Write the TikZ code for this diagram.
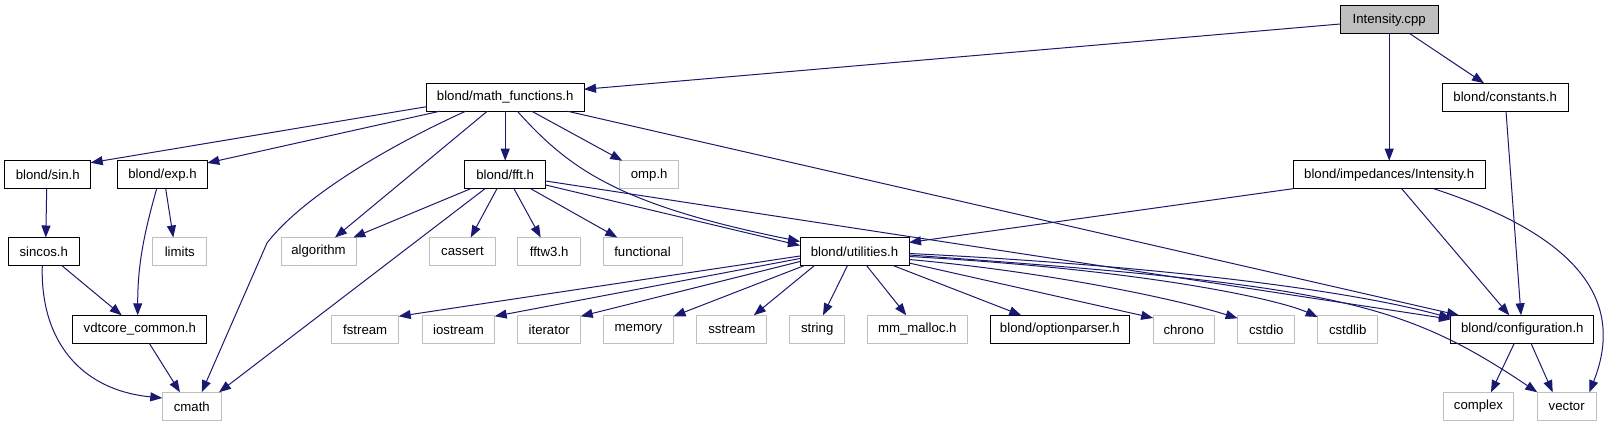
\documentclass[tikz,border=0pt]{standalone}
\usepackage{fontspec}
\setmainfont{Liberation Sans}
\usetikzlibrary{arrows.meta}
\definecolor{edgeblue}{RGB}{25,25,112}
\definecolor{boxgray}{RGB}{191,191,191}
\begin{document}
\begin{tikzpicture}[x=1pt,y=-1pt,
  box/.style={draw=black, line width=1pt, minimum height=28pt, inner sep=0pt, font=\fontsize{13.2}{15}\selectfont},
  sys/.style={box, draw=boxgray},
  e/.style={draw=edgeblue, line width=1pt, -{Triangle[length=12pt,width=9pt]}, fill=none}]
\useasboundingbox (0,0) rectangle (1615,427);
% nodes
\node[box, fill=boxgray, minimum width=97.7pt] (cpp) at (1389.2,19.8) {Intensity.cpp};
\node[box, minimum width=157.7pt] (math) at (505.2,97.2) {blond/math\_functions.h};
\node[box, minimum width=125.7pt] (const) at (1505.2,97.2) {blond/constants.h};
\node[box, minimum width=86pt] (sin) at (47.7,174.7) {blond/sin.h};
\node[box, minimum width=89.6pt] (exp) at (162.5,174.7) {blond/exp.h};
\node[box, minimum width=81pt] (fft) at (505.2,174.7) {blond/fft.h};
\node[sys, minimum width=59pt] (omp) at (649.2,174.7) {omp.h};
\node[box, minimum width=192.3pt] (imp) at (1389.2,174.7) {blond/impedances/Intensity.h};
\node[box, minimum width=71pt] (sincos) at (43.8,251.5) {sincos.h};
\node[sys, minimum width=53.7pt] (limits) at (179.8,251.5) {limits};
\node[sys, minimum width=75pt] (algo) at (318.5,251.5) {algorithm};
\node[sys, minimum width=65.7pt] (cassert) at (462.5,251.5) {cassert};
\node[sys, minimum width=63pt] (fftw) at (549.2,251.5) {fftw3.h};
\node[sys, minimum width=79pt] (func) at (642.5,251.5) {functional};
\node[box, minimum width=109pt] (util) at (854.5,251.5) {blond/utilities.h};
\node[box, minimum width=133.7pt] (vdt) at (139.8,329.3) {vdtcore\_common.h};
\node[sys, minimum width=67pt] (fstream) at (365.2,329.3) {fstream};
\node[sys, minimum width=72.3pt] (iostream) at (458.5,329.3) {iostream};
\node[sys, minimum width=63pt] (iterator) at (549.2,329.3) {iterator};
\node[sys, minimum width=69.7pt] (memory) at (638.5,329.3) {memory};
\node[sys, minimum width=69.7pt] (sstream) at (731.8,329.3) {sstream};
\node[sys, minimum width=55pt] (string) at (817.2,329.3) {string};
\node[sys, minimum width=100pt] (mmm) at (917.3,329.3) {mm\_malloc.h};
\node[box, minimum width=139pt] (opt) at (1059.8,329.3) {blond/optionparser.h};
\node[sys, minimum width=61pt] (chrono) at (1183.7,329.3) {chrono};
\node[sys, minimum width=57.3pt] (cstdio) at (1266.3,329.3) {cstdio};
\node[sys, minimum width=60pt] (cstdlib) at (1347.7,329.3) {cstdlib};
\node[box, minimum width=142.7pt] (conf) at (1522.3,329.3) {blond/configuration.h};
\node[sys, minimum width=59pt] (cmath) at (191.8,406.3) {cmath};
\node[sys, minimum width=70.4pt] (complex) at (1478.5,406.3) {complex};
\node[sys, minimum width=58.7pt] (vector) at (1566.7,406.3) {vector};
% edges
\draw[e] ([shift={(-48.9,4.2)}]cpp.center) -- ([shift={(78.8,-7.9)}]math.center);
\draw[e] ([shift={(0,14)}]cpp.center) -- ([shift={(0,-14)}]imp.center);
\draw[e] ([shift={(20.8,14)}]cpp.center) -- ([shift={(-21.2,-14)}]const.center);
\draw[e] ([shift={(-78.8,9.5)}]math.center) -- ([shift={(43,-12)}]sin.center);
\draw[e] ([shift={(-65.2,14)}]math.center) -- ([shift={(44.8,-11.7)}]exp.center);
\draw[e] ([shift={(0,14)}]math.center) -- ([shift={(0,-14)}]fft.center);
\draw[e] ([shift={(26.5,14)}]math.center) -- ([shift={(-26.9,-14)}]omp.center);
\draw[e] ([shift={(-17.9,14)}]math.center) -- ([shift={(16.5,-14)}]algo.center);
\draw[e] ([shift={(-39.5,14)}]math.center) .. controls (380,150) and (300,200) .. (267,243) -- ([shift={(9.9,-14)}]cmath.center);
\draw[e] ([shift={(12.1,14)}]math.center) .. controls (570,170) and (620,205) .. ([shift={(-54.5,-10)}]util.center);
\draw[e] ([shift={(62.1,14)}]math.center) -- ([shift={(-63.3,-14)}]conf.center);
\draw[e] ([shift={(-1,14)}]sin.center) -- ([shift={(2,-14)}]sincos.center);
\draw[e] ([shift={(3.2,14)}]exp.center) -- ([shift={(-6.5,-14)}]limits.center);
\draw[e] ([shift={(-5.8,14)}]exp.center) .. controls (142,240) and (137.7,270) .. ([shift={(-2.1,-14)}]vdt.center);
\draw[e] ([shift={(17.9,14)}]sincos.center) -- ([shift={(-18.1,-14)}]vdt.center);
\draw[e] ([shift={(-1.5,14)}]sincos.center) .. controls (40,340) and (80,390) .. ([shift={(-29.5,-8.3)}]cmath.center);
\draw[e] ([shift={(9.5,14)}]vdt.center) -- ([shift={(-11.8,-14)}]cmath.center);
\draw[e] ([shift={(-34.5,14)}]fft.center) -- ([shift={(34.8,-14)}]algo.center);
\draw[e] ([shift={(-20.2,14)}]fft.center) -- ([shift={(27.2,-14)}]cmath.center);
\draw[e] ([shift={(-8.2,14)}]fft.center) -- ([shift={(8.2,-14)}]cassert.center);
\draw[e] ([shift={(8.8,14)}]fft.center) -- ([shift={(-8.5,-14)}]fftw.center);
\draw[e] ([shift={(25.5,14)}]fft.center) -- ([shift={(-25.2,-14)}]func.center);
\draw[e] ([shift={(40.5,10.3)}]fft.center) -- ([shift={(-54.5,-6)}]util.center);
\draw[e] ([shift={(40.5,6.3)}]fft.center) -- ([shift={(-71.3,-10)}]conf.center);
\draw[e] ([shift={(-96.2,14)}]imp.center) -- ([shift={(54.5,-9)}]util.center);
\draw[e] ([shift={(12.5,14)}]imp.center) -- ([shift={(-13,-14)}]conf.center);
\draw[e] ([shift={(44.5,14)}]imp.center) .. controls (1560,230) and (1630,290) .. ([shift={(22.6,-14)}]vector.center);
\draw[e] ([shift={(0.8,14)}]const.center) -- ([shift={(-1.3,-14)}]conf.center);
\draw[e] ([shift={(-54.5,4.5)}]util.center) -- ([shift={(33.5,-13)}]fstream.center);
\draw[e] ([shift={(-54.5,7)}]util.center) -- ([shift={(36.2,-13)}]iostream.center);
\draw[e] ([shift={(-54.5,10)}]util.center) -- ([shift={(31.5,-13)}]iterator.center);
\draw[e] ([shift={(-50,14)}]util.center) -- ([shift={(35,-13)}]memory.center);
\draw[e] ([shift={(-40,14)}]util.center) -- ([shift={(22,-14)}]sstream.center);
\draw[e] ([shift={(-7,14)}]util.center) -- ([shift={(5.8,-14)}]string.center);
\draw[e] ([shift={(12,14)}]util.center) -- ([shift={(-11,-14)}]mmm.center);
\draw[e] ([shift={(38.5,14)}]util.center) -- ([shift={(-38.5,-14)}]opt.center);
\draw[e] ([shift={(54.5,11.5)}]util.center) -- ([shift={(-30.5,-11.3)}]chrono.center);
\draw[e] ([shift={(54.5,8)}]util.center) .. controls (1050,272) and (1180,300) .. ([shift={(-28.7,-11)}]cstdio.center);
\draw[e] ([shift={(54.5,5)}]util.center) .. controls (1150,270) and (1280,300) .. ([shift={(-30,-12.3)}]cstdlib.center);
\draw[e] ([shift={(54.5,2)}]util.center) .. controls (1150,265) and (1350,290) .. ([shift={(-71.3,-11)}]conf.center);
\draw[e] ([shift={(54.5,3.5)}]util.center) .. controls (1330,285) and (1400,300) .. ([shift={(-29.4,-14)}]vector.center);
\draw[e] ([shift={(-8,14)}]conf.center) -- ([shift={(12.5,-14)}]complex.center);
\draw[e] ([shift={(8.7,14)}]conf.center) -- ([shift={(-14,-14)}]vector.center);
\end{tikzpicture}
\end{document}
